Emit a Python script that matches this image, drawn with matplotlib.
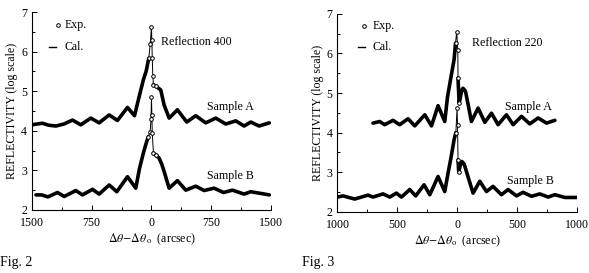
import numpy as np
import matplotlib.pyplot as plt
from matplotlib.ticker import MultipleLocator, FuncFormatter

plt.rcParams['font.family'] = ['Liberation Serif', 'DejaVu Serif']
plt.rcParams['mathtext.fontset'] = 'stix'

# Fig. 2, reflection 400 (arcsec, log reflectivity)
r400_a_x = [-1500, -1440, -1368, -1290, -1200, -1100, -991, -887, -762, -657, -531, -427,
            -301, -213, -150, -100, -67, -34, -15, 0, 5, 10, 17, 25, 60, 117, 159, 222,
            326, 443, 556, 681, 807, 933, 1058, 1163, 1247, 1352, 1480]
r400_a_y = [4.15, 4.17, 4.19, 4.14, 4.12, 4.17, 4.27, 4.15, 4.32, 4.20, 4.40, 4.26,
            4.59, 4.38, 4.90, 5.30, 5.50, 5.83, 6.20, 6.62, 6.30, 5.83, 5.38, 5.16, 5.12,
            5.03, 4.65, 4.32, 4.53, 4.22, 4.38, 4.20, 4.32, 4.17, 4.25, 4.12, 4.22, 4.12, 4.20]
r400_b_x = [-1450, -1380, -1300, -1180, -1096, -950, -866, -740, -657, -531, -435, -301,
            -197, -150, -100, -67, -40, -17, -5, 0, 5, 10, 25, 60, 96, 130, 159, 222,
            326, 431, 556, 661, 787, 904, 1017, 1163, 1247, 1480]
r400_b_y = [2.38, 2.38, 2.33, 2.44, 2.34, 2.49, 2.38, 2.52, 2.40, 2.63, 2.46, 2.84,
            2.55, 3.05, 3.45, 3.68, 3.85, 3.98, 4.30, 4.86, 4.40, 3.95, 3.43, 3.38, 3.31,
            3.15, 2.97, 2.55, 2.74, 2.50, 2.60, 2.49, 2.55, 2.44, 2.50, 2.40, 2.46, 2.38]

# Fig. 3, reflection 220
r220_a_x = [-703, -647, -605, -536, -480, -410, -354, -270, -214, -159, -103, -80, -50,
            -25, -13, -3, 6, 8, 17, 25, 40, 50, 70, 90, 120, 176, 232, 288, 343, 413,
            469, 539, 608, 678, 748, 818]
r220_a_y = [4.24, 4.28, 4.20, 4.31, 4.20, 4.35, 4.17, 4.45, 4.17, 4.68, 4.28, 4.90, 5.42,
            5.84, 6.26, 6.55, 6.09, 5.38, 4.75, 4.85, 5.08, 5.12, 5.05, 4.75, 4.28, 4.62,
            4.26, 4.49, 4.20, 4.45, 4.20, 4.41, 4.22, 4.37, 4.24, 4.31]
r220_b_x = [-1000, -954, -856, -745, -703, -619, -563, -507, -465, -396, -346, -276,
            -228, -159, -103, -80, -50, -25, -10, 0, 4, 8, 14, 25, 40, 60, 90, 134, 190,
            246, 301, 371, 427, 497, 552, 623, 692, 762, 818, 902, 1000]
r220_b_y = [2.37, 2.40, 2.32, 2.42, 2.37, 2.45, 2.37, 2.47, 2.37, 2.56, 2.40, 2.68,
            2.43, 2.89, 2.51, 2.90, 3.38, 3.82, 4.00, 4.62, 4.20, 3.31, 3.00, 3.15, 3.27,
            3.20, 2.90, 2.47, 2.77, 2.51, 2.64, 2.43, 2.56, 2.40, 2.49, 2.39, 2.45, 2.37,
            2.43, 2.36, 2.36]


def draw_sample(ax, xs, ys, w):
    x = np.array(xs, dtype=float)
    y = np.array(ys, dtype=float)
    left = x <= -w
    right = x >= w
    mid = np.abs(x) <= 3 * w
    # dense experimental points look like a thick band away from the peak
    ax.plot(x[left], y[left], color='k', lw=2.6, solid_joinstyle='round', solid_capstyle='round')
    ax.plot(x[right], y[right], color='k', lw=2.6, solid_joinstyle='round', solid_capstyle='round')
    ax.plot(x, y, color='k', lw=0.7)
    ax.plot(x[mid], y[mid], 'o', ms=2.6, mfc='white', mec='k', mew=0.7)


def setup(ax, lim, major, minor):
    ax.set_xlim(-lim, lim)
    ax.set_ylim(2, 7)
    for s in ['top', 'right']:
        ax.spines[s].set_visible(False)
    ax.spines['left'].set_linewidth(0.8)
    ax.spines['bottom'].set_linewidth(0.8)
    ax.xaxis.set_major_locator(MultipleLocator(major))
    ax.xaxis.set_minor_locator(MultipleLocator(minor))
    ax.yaxis.set_major_locator(MultipleLocator(1))
    ax.yaxis.set_minor_locator(MultipleLocator(0.5))
    ax.xaxis.set_major_formatter(FuncFormatter(lambda v, p: '%d' % abs(v)))
    ax.tick_params(which='both', direction='in', labelsize=8.6, width=0.7)
    ax.tick_params(which='major', length=3.5)
    ax.tick_params(which='minor', length=2.5)
    ax.tick_params(axis='x', pad=5)
    ax.set_ylabel('REFLECTIVITY (log scale)', fontsize=8.6, labelpad=2)


def legend(ax, x0, xc, xt, y1, y2):
    ax.plot([xc], [y1], 'o', ms=2.6, mfc='white', mec='k', mew=0.7, transform=ax.transAxes)
    ax.plot([x0, x0 + 0.03], [y2, y2], color='k', lw=1.0, transform=ax.transAxes)
    ax.text(xt, y1, 'Exp.', fontsize=8.6, va='center', transform=ax.transAxes)
    ax.text(xt, y2, 'Cal.', fontsize=8.6, va='center', transform=ax.transAxes)


fig = plt.figure(figsize=(5.89, 2.73), dpi=100)
ax1 = fig.add_axes([0.0543, 0.231, 0.4057, 0.725])
ax2 = fig.add_axes([0.573, 0.2245, 0.406, 0.7245])

setup(ax1, 1500, 750, 375)
draw_sample(ax1, r400_a_x, r400_a_y, 20)
draw_sample(ax1, r400_b_x, r400_b_y, 20)
ax1.set_xlabel(r'$\Delta\theta\!-\!\Delta\theta_{\,\mathrm{o}}$  (arcsec)', fontsize=8.6, labelpad=2)
ax1.text(125, 6.24, 'Reflection 400', fontsize=8.6, va='center')
ax1.text(703, 4.6, 'Sample A', fontsize=8.6, va='center')
ax1.text(703, 2.86, 'Sample B', fontsize=8.6, va='center')
legend(ax1, 0.071, 0.109, 0.138, 0.934, 0.823)

setup(ax2, 1000, 500, 250)
draw_sample(ax2, r220_a_x, r220_a_y, 7)
draw_sample(ax2, r220_b_x, r220_b_y, 7)
ax2.set_xlabel(r'$\Delta\theta\!-\!\Delta\theta_{\mathrm{o}}$  (arcsec)', fontsize=8.6, labelpad=2)
ax2.text(123, 6.27, 'Reflection 220', fontsize=8.6, va='center')
ax2.text(399, 4.65, 'Sample A', fontsize=8.6, va='center')
ax2.text(416, 2.78, 'Sample B', fontsize=8.6, va='center')
legend(ax2, 0.086, 0.111, 0.148, 0.939, 0.833)

fig.text(0.0, 0.04, 'Fig. 2', fontsize=10, va='center')
fig.text(0.513, 0.04, 'Fig. 3', fontsize=10, va='center')

fig.savefig('out.png', dpi=100)
